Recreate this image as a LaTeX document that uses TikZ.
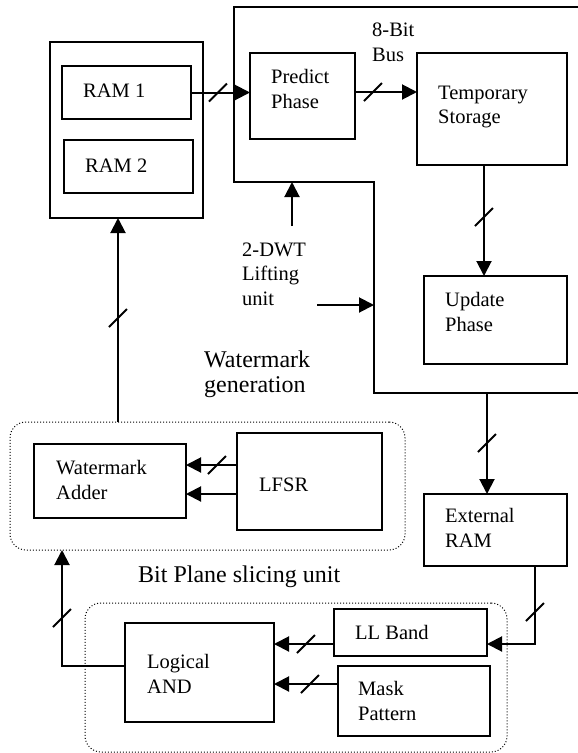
\documentclass[tikz,border=0pt]{standalone}
\usepackage{fontspec}
\setmainfont{Liberation Serif}
\usetikzlibrary{arrows.meta,calc}
\newcommand\busmark[1]{\draw[busmk] ($(#1)+(-9,9)$) -- ($(#1)+(9,-9)$);}
\begin{document}
\begin{tikzpicture}[x=1pt,y=-1pt,
  box/.style={draw, line width=2pt, inner sep=0pt, outer sep=0pt, anchor=north west},
  grp/.style={draw, line width=1pt, dash pattern=on 1pt off 2pt, rounded corners=16pt, inner sep=0pt, outer sep=0pt, anchor=north west},
  txt/.style={font=\fontsize{20.5}{24.5}\selectfont, inner sep=0pt, align=left, anchor=base west},
  bigtxt/.style={font=\fontsize{24}{25}\selectfont, inner sep=0pt, align=left, anchor=base west},
  arr/.style={line width=2pt, -{Triangle[length=15pt,width=15pt]}},
  plain/.style={line width=2pt},
  busmk/.style={line width=2pt}]
\useasboundingbox (0,0) rectangle (578,753);
% boxes
\node[box, minimum width=153pt, minimum height=176pt] (ramouter) at (50,42) {};
\node[box, minimum width=129pt, minimum height=53pt] (ram1) at (62,66) {};
\node[box, minimum width=129pt, minimum height=53pt] (ram2) at (64,140) {};
\node[box, minimum width=105pt, minimum height=86pt] (predict) at (250,53) {};
\node[box, minimum width=150pt, minimum height=112pt] (temp) at (417,53) {};
\node[box, minimum width=143pt, minimum height=88pt] (update) at (424,276) {};
\node[box, minimum width=143pt, minimum height=72pt] (extram) at (424,494) {};
\node[box, minimum width=152pt, minimum height=74pt] (adder) at (34,444) {};
\node[box, minimum width=145pt, minimum height=97pt] (lfsr) at (237,433) {};
\node[box, minimum width=149pt, minimum height=99pt] (andb) at (125,623) {};
\node[box, minimum width=153pt, minimum height=47pt] (llband) at (334,609) {};
\node[box, minimum width=152pt, minimum height=70pt] (mask) at (338,666) {};
\node[grp, minimum width=395pt, minimum height=128pt] (wmgen) at (10,422) {};
\node[grp, minimum width=422pt, minimum height=149pt] (bpsu) at (85,603) {};
% lifting unit outline
\draw[plain] (578,7) -- (234,7) -- (234,182) -- (374,182) -- (374,393) -- (578,393);
\coordinate (liftin1) at (292,182);
\coordinate (liftin2) at (374,305);
\coordinate (liftout) at (487,393);
\coordinate (dwtup) at (292,226);
\coordinate (dwtright) at (317,305);
% texts (anchor = baseline of last line)
\node[txt] (t1) at (83,97) {RAM 1};
\node[txt] (t2) at (85,172) {RAM 2};
\node[txt] (t3) at (271,108) {Predict\\Phase};
\node[txt] (t4) at (438,123.5) {Temporary\\Storage};
\node[txt] (t5) at (445,331) {Update\\Phase};
\node[txt] (t6) at (372,61) {8-Bit\\Bus};
\node[txt] (t7) at (242,305) {2-DWT\\Lifting\\unit};
\node[bigtxt] (t8) at (204,392) {Watermark\\generation};
\node[txt] (t9) at (56,499) {Watermark\\Adder};
\node[txt] (t10) at (259,491) {LFSR};
\node[bigtxt] (t11) at (138,582) {Bit Plane slicing unit};
\node[txt] (t12) at (147,693) {Logical\\AND};
\node[txt] (t13) at (355,639) {LL Band};
\node[txt] (t14) at (358,720) {Mask\\Pattern};
\node[txt] (t15) at (445,547) {External\\RAM};
% connectors
\draw[arr] (ram1.east) -- (ram1.east -| predict.west);
\busmark{$(ram1.east)+(27,0)$}
\draw[arr] (predict.east |- 0,92) -- (temp.west |- 0,92);
\busmark{373,92}
\draw[arr] (temp.south -| 484,0) -- (update.north -| 484,0);
\busmark{484,217}
\draw[arr] (dwtup) -- (liftin1);
\draw[arr] (dwtright) -- (liftin2);
\draw[arr] (liftout) -- (liftout |- extram.north);
\busmark{487,443}
\draw[arr] (extram.south -| 535,0) |- (llband.east |- 0,644);
\busmark{535,612}
\draw[arr] (llband.west |- 0,644) -- (andb.east |- 0,644);
\busmark{306,644}
\draw[arr] (mask.west |- 0,684) -- (andb.east |- 0,684);
\busmark{310,684}
\draw[arr] (andb.west |- 0,666) -| (wmgen.south -| 62,0);
\busmark{62,618}
\draw[arr] (lfsr.west |- 0,465) -- (adder.east |- 0,465);
\busmark{217,465}
\draw[arr] (lfsr.west |- 0,494) -- (adder.east |- 0,494);
\draw[arr] (wmgen.north -| 118,0) -- (ramouter.south -| 118,0);
\busmark{118,318}
\end{tikzpicture}
\end{document}
